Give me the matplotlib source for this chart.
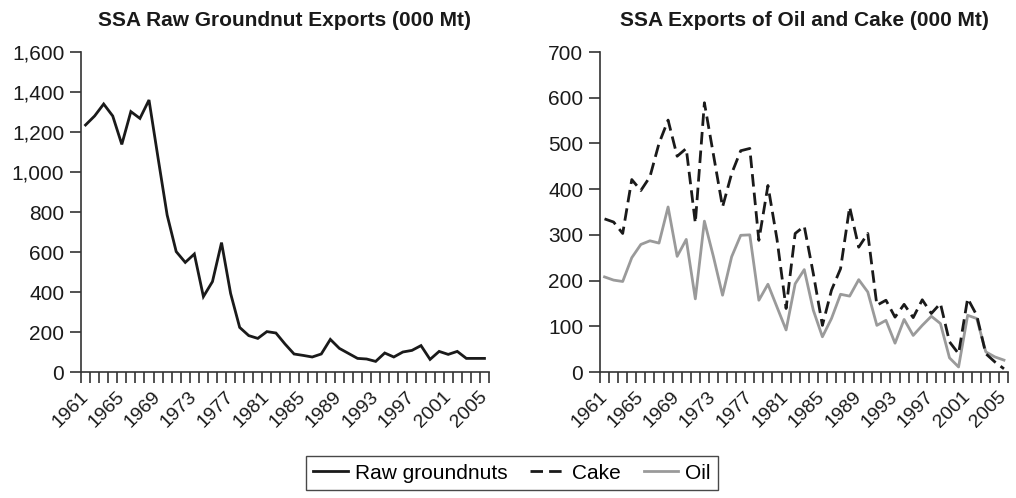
import matplotlib
matplotlib.use("Agg")
import matplotlib.pyplot as plt
import matplotlib.transforms as mtransforms
from matplotlib.ticker import FuncFormatter, FixedLocator
from matplotlib.lines import Line2D

years = list(range(1961, 2006))
raw_groundnuts = [1235, 1280, 1340, 1280, 1138, 1302, 1268, 1360, 1070, 785,
                  602, 548, 590, 377, 452, 647, 393, 223, 182, 168,
                  202, 195, 140, 90, 83, 75, 90, 163, 118, 93,
                  68, 65, 53, 95, 75, 100, 108, 132, 63, 103,
                  88, 103, 68, 68, 68]
cake = [335, 328, 303, 421, 397, 427, 500, 551, 472, 489,
        326, 589, 475, 361, 434, 484, 489, 288, 408, 290,
        139, 303, 319, 215, 102, 179, 226, 361, 273, 303,
        146, 157, 120, 148, 119, 158, 128, 150, 66, 40,
        161, 124, 40, 22, 7]
oil = [208, 201, 198, 250, 279, 287, 282, 361, 253, 290,
       160, 330, 252, 168, 252, 299, 300, 157, 192, 142,
       92, 193, 224, 135, 77, 117, 170, 166, 202, 175,
       102, 113, 63, 115, 80, 102, 122, 106, 31, 11,
       124, 117, 44, 33, 26]

plt.rcParams['font.family'] = ['Liberation Sans', 'DejaVu Sans']

W, H = 1016, 498
fig = plt.figure(figsize=(W / 100, H / 100), dpi=100)

black = '#1a1a1a'
grey = '#9a9a9a'
lw = 2.0
fs = 15
xfs = 14
dash = (4.5, 2.2)
shift = mtransforms.ScaledTranslation(3 / 100, 0, fig.dpi_scale_trans)

def setup(ax, ymax, ystep, title):
    n = len(years)
    idx = list(range(n))
    ax.set_xlim(-0.5, n - 0.5)
    ax.set_ylim(0, ymax)
    for s in ['top', 'right']:
        ax.spines[s].set_visible(False)
    for s in ['left', 'bottom']:
        ax.spines[s].set_color('#333333')
        ax.spines[s].set_linewidth(1.2)
    ax.set_yticks(list(range(0, ymax + 1, ystep)))
    ax.yaxis.set_major_formatter(FuncFormatter(lambda v, p: f"{int(v):,}"))
    ax.tick_params(axis='y', length=8, width=1.2, color='#333333',
                   labelsize=fs, pad=4, labelcolor='#1a1a1a')
    lab_idx = idx[::4]
    ax.xaxis.set_major_locator(FixedLocator(lab_idx))
    ax.set_xticklabels([str(years[i]) for i in lab_idx], rotation=45,
                       ha='right', va='center', rotation_mode='anchor',
                       fontsize=xfs, color='#1a1a1a')
    for t in ax.get_xticklabels():
        t.set_transform(t.get_transform() + shift)
    ax.xaxis.set_minor_locator(FixedLocator([i - 0.5 for i in range(n + 1)]))
    ax.tick_params(axis='x', which='major', length=0, pad=16)
    ax.tick_params(axis='x', which='minor', length=8, width=1.2, color='#333333')
    ax.set_title(title, fontsize=fs, fontweight='bold', pad=19, color='#1a1a1a')
    return idx

ax1 = fig.add_axes([81 / W, 1 - 372 / H, (489 - 81) / W, (372 - 52) / H])
idx = setup(ax1, 1600, 200, 'SSA Raw Groundnut Exports (000 Mt)')
ax1.plot(idx, raw_groundnuts, color=black, lw=lw, solid_joinstyle='miter')

ax2 = fig.add_axes([600 / W, 1 - 372 / H, (1008.5 - 600) / W, (372 - 52) / H])
idx = setup(ax2, 700, 100, 'SSA Exports of Oil and Cake (000 Mt)')
ax2.plot(idx, oil, color=grey, lw=lw)
ax2.plot(idx, cake, color=black, lw=lw, dashes=dash)

handles = [Line2D([], [], color=black, lw=lw),
           Line2D([], [], color=black, lw=lw, dashes=dash),
           Line2D([], [], color=grey, lw=lw)]
leg = fig.legend(handles, ['Raw groundnuts', 'Cake', 'Oil'], loc='center',
                 bbox_to_anchor=(512 / W, 1 - 473 / H), ncol=3, fontsize=fs,
                 frameon=True, fancybox=False, edgecolor='#1a1a1a',
                 handlelength=1.65, columnspacing=1.1, handletextpad=0.35,
                 borderpad=0.35)
leg.get_frame().set_linewidth(1.0)

fig.savefig('out.png', dpi=100)
